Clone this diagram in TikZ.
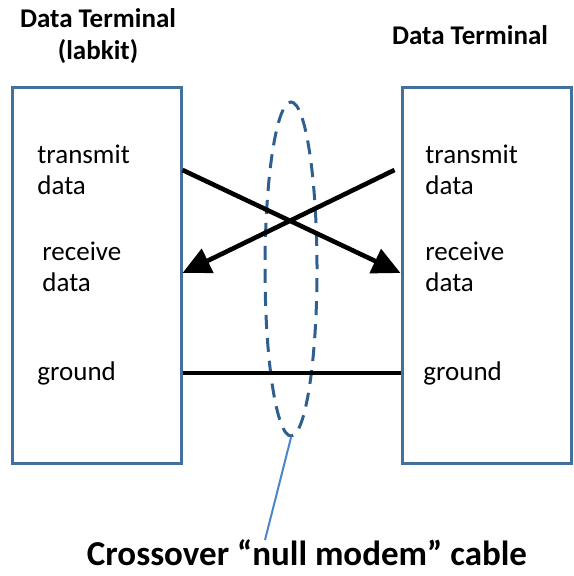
\documentclass[tikz,border=0pt]{standalone}
\usepackage{fontspec}
\setmainfont{Carlito}
\usetikzlibrary{arrows.meta,positioning,shapes.geometric}
\definecolor{boxblue}{HTML}{41719C}
\definecolor{dashblue}{HTML}{2F5F8F}
\definecolor{pinblue}{HTML}{4A86C8}
\begin{document}
\begin{tikzpicture}[x=0.5pt,y=-0.5pt,
    txt/.style={anchor=west,align=left,inner sep=0pt,font=\fontsize{13.5}{15.5}\selectfont},
    ttl/.style={align=center,inner sep=0pt,font=\fontsize{13.5}{16}\selectfont\bfseries},
    wire/.style={line width=2.3pt,black},
    tip/.style={-{Triangle[length=14pt,width=13pt]}}]
  \useasboundingbox (0,0) rectangle (573,576);
  \begin{scope}[every node/.style={draw=boxblue,line width=1.5pt,minimum width=84.5pt,minimum height=187.5pt,inner sep=0pt}]
    \node (L) at (96.5,275.5) {};
    \node (R) at (486.5,275.5) {};
  \end{scope}
  % titles
  \node[ttl] (lt) at (98,36) {Data Terminal\\(labkit)};
  \node[ttl] (rt) at (470,35) {Data Terminal};
  % signal names
  \node[txt] (ltd) at (37,170) {transmit\\data};
  \node[txt] (lrd) at (42,267) {receive\\data};
  \node[txt] (lgd) at (37,373) {ground};
  \node[txt] (rtd) at (425,170) {transmit\\data};
  \node[txt] (rrd) at (425,267) {receive\\data};
  \node[txt] (rgd) at (423,373) {ground};
  % cable
  \node[ellipse,draw=dashblue,line width=1.5pt,dash pattern=on 7pt off 4.5pt,minimum width=26pt,minimum height=167pt] (nm) at (291,269) {};
  \node[font=\fontsize{17.5}{20}\selectfont\bfseries,inner sep=0pt] (lbl) at (307,553) {Crossover ``null modem'' cable};
  \coordinate (pt) at (265,540);
  \draw[pinblue,line width=1pt] (nm.south) -- (pt);
  % wires
  \draw[wire,tip] (L.east |- ltd) -- ([yshift=-3pt]R.west |- rrd);
  \draw[wire,tip] ([xshift=-3pt]R.west |- rtd) -- ([yshift=-3pt]L.east |- lrd);
  \draw[wire] (L.east |- lgd) -- (R.west |- rgd);
\end{tikzpicture}
\end{document}
